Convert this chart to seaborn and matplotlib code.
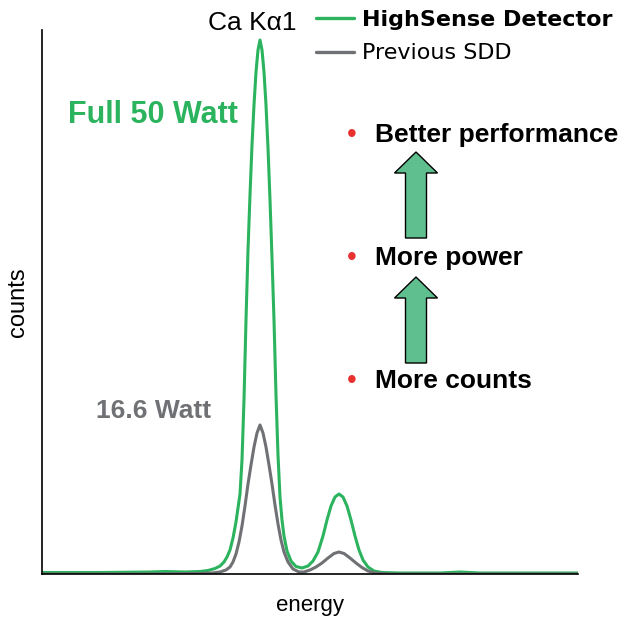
import matplotlib
matplotlib.use("Agg")
import matplotlib.pyplot as plt
from matplotlib.patches import FancyArrow
import seaborn as sns
import pandas as pd

# Couleurs
GREEN = '#2bb35e'
GRAY = '#707174'
RED = '#e8302f'
ARROW_FILL = '#5fbf8e'

# Spectre HighSense (energie en unites canal, coups en unites arbitraires)
energy_new = [42, 100, 150, 165, 185, 200, 208, 215, 220, 224, 227, 230, 233, 236, 238,
              240, 242, 244, 246, 248, 250, 252, 254, 256, 258, 260, 262, 264, 266, 268,
              270, 272, 274, 276, 278, 280, 282, 284, 287, 291, 296, 302, 308, 313, 318,
              323, 327, 331, 335, 339, 343, 347, 351, 355, 359, 363, 368, 374, 382, 400,
              440, 460, 480, 578]
counts_new = [1.5, 1.5, 2, 2.5, 2, 2.5, 3.5, 5.5, 8, 12, 17, 24, 36, 52, 66,
              80, 114, 174, 254, 324, 379, 429, 469, 502, 524, 534, 524, 502, 469, 426,
              374, 316, 254, 179, 119, 77, 54, 38, 23, 13, 7.5, 6, 8, 13, 22,
              38, 54, 68, 77, 80, 77, 68, 54, 38, 24, 14, 7, 3, 1.5, 1,
              1, 2, 1, 1]

# Spectre SDD precedent
energy_old = [42, 150, 200, 212, 220, 226, 230, 233, 236, 239, 242, 245, 248, 251, 254,
              257, 260, 263, 266, 269, 272, 275, 278, 281, 284, 288, 293, 299, 304, 310,
              316, 322, 328, 334, 339, 344, 350, 356, 362, 368, 375, 390, 578]
counts_old = [0, 0, 0.5, 1, 2, 4, 7, 12, 20, 32, 48, 68, 90, 109, 127,
              141, 149, 141, 127, 109, 90, 69, 50, 34, 22, 12, 5, 2, 2, 4,
              7, 11, 16, 20.5, 22, 20.5, 16, 11, 6.5, 3, 1, 0, 0]

series = ['HighSense Detector', 'Previous SDD']

df = pd.concat([
    pd.DataFrame({'energy': energy_new, 'counts': counts_new, 'detector': series[0]}),
    pd.DataFrame({'energy': energy_old, 'counts': counts_old, 'detector': series[1]}),
])

sns.set_style('white')
plt.rcParams['font.family'] = ['Liberation Sans', 'DejaVu Sans']
plt.rcParams['text.color'] = 'black'
plt.rcParams['axes.labelcolor'] = 'black'

fig = plt.figure(figsize=(6.22, 6.19), dpi=100)
ax = fig.add_axes([42 / 622, 45 / 619, 536 / 622, 544 / 619])

sns.lineplot(data=df, x='energy', y='counts', hue='detector', hue_order=series,
             palette=[GREEN, GRAY], estimator=None, sort=False, linewidth=2.2, ax=ax)

ax.set_xlim(42, 578)
ax.set_ylim(0, 544)
ax.set_xticks([])
ax.set_yticks([])
sns.despine(ax=ax)
for side in ['left', 'bottom']:
    ax.spines[side].set_color('black')
    ax.spines[side].set_linewidth(1.2)

ax.set_xlabel('energy', fontsize=16, labelpad=15)
ax.set_ylabel('counts', fontsize=17, labelpad=9)

# Legende
handles, labels = ax.get_legend_handles_labels()
leg = ax.legend(handles, labels, loc='upper left', frameon=False,
                bbox_to_anchor=(316 / 622, 1 - 10 / 619), bbox_transform=fig.transFigure,
                prop={'family': 'DejaVu Sans', 'size': 16}, borderpad=0, borderaxespad=0,
                handlelength=1.7, handletextpad=0.35, labelspacing=0.6)
leg.get_texts()[0].set_fontweight('bold')
for line in leg.get_lines():
    line.set_linewidth(2.4)

# Annotations
fig.text(252 / 622, 1 - 23 / 619, 'Ca K\u03b11', fontsize=19, ha='center', va='center')
fig.text(153 / 622, 1 - 115 / 619, 'Full 50 Watt', fontsize=22, fontweight='bold',
         color=GREEN, ha='center', va='center')
fig.text(154 / 622, 1 - 411 / 619, '16.6 Watt', fontsize=19, fontweight='bold',
         color=GRAY, ha='center', va='center')

bullets = ['Better performance', 'More power', 'More counts']
bullet_y = [135, 258, 381]
for txt, py in zip(bullets, bullet_y):
    fig.text(352 / 622, 1 - py / 619, '\u2022', fontsize=20, color=RED,
             ha='center', va='center')
    fig.text(375 / 622, 1 - py / 619, txt, fontsize=19, fontweight='bold',
             ha='left', va='center')

# Fleches (axe en pixels 1:1)
for y0 in [336, 211]:
    ax.add_patch(FancyArrow(416, y0, 0, 86, width=21, head_width=43, head_length=21,
                            length_includes_head=True, facecolor=ARROW_FILL,
                            edgecolor='black', linewidth=1.0, clip_on=False))

fig.savefig('out.png', dpi=100)
plt.close(fig)
